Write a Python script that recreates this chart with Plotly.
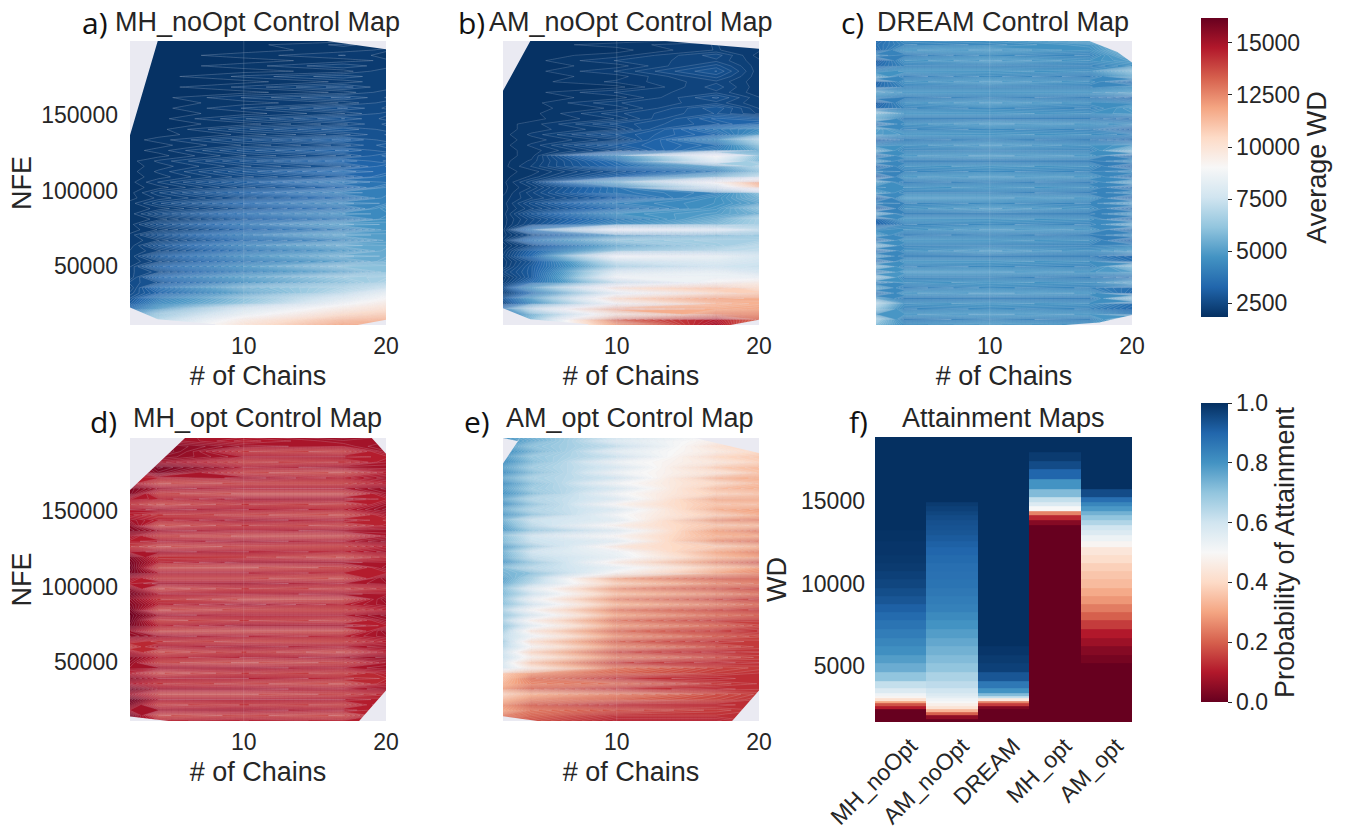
import plotly.graph_objects as go

chains = [2, 4, 10, 17, 20]
nfe = [11000, 14500, 18000, 21500, 25000, 28500, 32000, 35500, 39000, 42500, 46000, 49500, 53000, 56500,
       60000, 63500, 67000, 70500, 74000, 77500, 81000, 84500, 88000, 91500, 95000, 98500, 102000, 105500,
       109000, 112500, 116000, 119500, 123000, 126500, 130000, 133500, 137000, 140500, 144000, 147500,
       151000, 154500, 158000, 161500, 165000, 168500, 172000, 175500, 179000, 182500, 186000, 189500,
       193000, 196500, 199000]

# Average WD in hundreds, bottom row first
mh_noopt = [
 [70,75,100,118,118],[55,68,95,112,114],[45,62,85,104,108],[35,50,78,96,102],[30,44,62,88,96],
 [28,40,60,80,90],[26,32,50,72,84],[24,36,56,68,74],[26,28,44,60,68],[23,34,50,64,66],
 [24,26,40,52,60],[23,32,46,60,60],[22,25,38,48,56],[22,30,44,56,54],[22,24,36,46,54],
 [21,28,42,54,52],[21,23,34,42,50],[21,27,40,52,50],[20,22,32,40,48],[20,26,38,50,48],
 [20,21,30,38,46],[20,25,36,46,44],[20,21,28,36,46],[20,24,34,44,42],[19,21,27,34,42],
 [19,23,32,42,40],[19,20,26,32,40],[19,22,30,40,36],[19,20,25,30,36],[19,21,28,36,33],
 [19,20,24,28,34],[19,21,27,34,30],[19,19,23,27,32],[19,20,26,32,28],[19,19,22,26,30],
 [19,20,25,31,27],[19,19,21,25,28],[19,19,24,29,26],[19,19,20,24,27],[19,19,23,28,25],
 [19,19,20,23,26],[19,19,22,27,24],[19,19,20,22,25],[19,19,22,26,23],[19,19,19,21,24],
 [19,19,21,25,22],[19,19,19,21,23],[19,19,21,24,22],[19,19,19,20,23],[19,19,20,23,21],
 [19,19,19,20,21],[19,19,20,22,20],[19,19,19,20,21],[19,19,19,21,20],[19,19,19,19,20]]
am_noopt = [
 [50,66,120,150,125],[42,60,132,146,130],[30,56,100,124,124],[38,70,122,116,118],[24,44,90,112,115],
 [28,50,104,118,116],[22,36,84,104,108],[26,48,100,110,102],[22,34,72,92,96],[21,30,88,86,86],
 [24,30,80,84,78],[21,30,66,76,74],[21,28,74,80,76],[22,34,88,84,78],[21,32,60,70,72],
 [20,26,52,64,70],[21,38,62,66,66],[20,26,46,58,62],[20,40,84,80,72],[20,26,44,58,66],
 [20,25,40,54,66],[20,28,46,50,56],[20,24,36,48,60],[20,26,42,46,52],[20,23,32,46,56],
 [19,24,38,42,60],[19,22,38,76,108],[19,24,54,92,116],[19,21,32,56,72],[19,20,28,40,60],
 [19,22,34,50,68],[19,21,36,80,58],[19,20,44,90,60],[19,20,26,40,54],[19,21,30,36,60],
 [19,20,24,44,68],[19,21,28,34,48],[19,20,23,38,44],[19,20,26,30,34],[19,19,22,32,30],
 [19,19,24,28,24],[19,19,21,29,23],[19,19,23,25,22],[19,19,20,27,22],[19,19,22,24,21],
 [19,19,19,25,21],[19,19,21,24,21],[19,19,20,26,21],[19,19,22,28,21],[19,19,20,26,21],
 [19,19,22,24,21],[19,19,20,25,20],[19,19,19,22,21],[19,19,20,22,20],[19,19,19,20,20]]
dream = [
 [60,46,50,46,58],[66,40,42,40,62],[48,48,50,48,40],[62,42,44,42,34],[70,46,48,46,36],
 [50,40,40,40,58],[36,48,50,48,34],[52,40,44,42,36],[40,46,48,46,52],[60,42,42,40,36],
 [38,50,50,48,50],[56,42,44,42,58],[34,48,48,46,36],[50,40,40,40,34],[34,46,50,46,50],
 [56,42,42,42,44],[36,48,48,46,32],[50,40,42,40,46],[44,46,50,48,34],[32,42,44,42,52],
 [34,48,48,46,34],[52,40,40,40,48],[30,46,50,46,34],[44,42,44,42,50],[32,50,50,48,32],
 [50,42,42,40,46],[44,46,48,46,34],[52,40,42,40,52],[30,48,50,48,36],[44,42,44,42,46],
 [34,46,48,46,32],[50,40,40,40,46],[36,48,50,48,34],[54,42,42,42,58],[44,46,50,46,48],
 [32,40,42,40,34],[50,48,48,46,44],[52,42,44,42,32],[36,46,50,48,46],[54,40,40,40,36],
 [60,48,48,46,48],[34,42,44,42,50],[30,46,50,46,44],[44,40,42,40,34],[52,48,48,48,52],
 [34,42,42,42,46],[32,46,50,46,36],[52,40,44,40,52],[44,48,48,46,60],[34,42,42,42,46],
 [30,46,50,46,50],[44,40,44,42,56],[34,48,50,46,60],[36,42,44,48,62],[34,44,46,52,64]]
mh_opt = [
 [152,146,148,146,146],[158,138,140,138,148],[150,150,150,148,144],[156,140,142,140,150],[160,148,148,148,146],
 [150,138,138,140,144],[158,150,150,148,150],[148,142,140,138,146],[154,148,148,146,144],[146,138,142,140,146],
 [150,150,150,148,150],[152,140,138,140,148],[154,146,148,150,152],[148,138,142,138,146],[140,148,150,148,150],
 [146,142,140,140,146],[154,150,148,146,150],[152,138,138,138,152],[158,146,150,150,146],[160,140,142,140,150],
 [160,150,148,148,152],[158,138,140,140,146],[156,146,150,146,150],[154,142,138,138,152],[158,148,148,150,148],
 [154,138,142,140,144],[146,150,150,148,150],[150,140,140,138,152],[158,148,148,146,146],[160,138,138,140,150],
 [158,146,150,150,148],[156,142,142,138,144],[148,150,148,146,150],[142,138,140,140,146],[146,148,150,148,152],
 [150,140,138,138,148],[156,150,148,150,150],[154,138,142,140,146],[150,146,150,148,144],[146,142,140,138,148],
 [148,150,148,146,152],[142,138,142,140,150],[148,146,150,150,146],[156,140,138,138,150],[156,150,148,148,152],
 [148,138,140,140,146],[146,146,150,146,150],[148,156,140,138,146],[150,158,148,150,150],[152,150,140,142,148],
 [152,154,148,148,146],[152,158,142,140,150],[152,156,150,148,152],[152,152,146,150,150],[152,150,148,152,150]]
am_opt = [
 [132,136,146,146,142],[126,132,142,142,142],[118,128,136,140,142],[122,134,144,144,142],[114,124,132,138,142],
 [106,116,126,136,140],[120,132,142,144,142],[114,124,130,140,142],[110,128,142,144,142],[108,120,132,140,142],
 [78,98,128,138,140],[80,110,140,144,142],[74,94,126,136,140],[76,106,138,144,142],[70,90,124,136,140],
 [66,102,134,142,140],[72,86,122,134,138],[66,98,132,140,142],[62,82,120,132,138],[68,94,130,140,140],
 [62,78,118,130,134],[68,90,128,138,140],[60,76,114,126,132],[62,86,126,138,140],[58,74,112,124,130],
 [60,82,124,136,138],[54,70,108,124,128],[52,66,120,134,134],[56,60,92,118,124],[58,70,84,110,120],
 [48,62,96,126,136],[54,72,84,112,120],[56,76,86,118,126],[50,64,98,108,116],[58,74,82,124,130],
 [60,76,92,114,118],[50,62,80,120,128],[52,70,94,110,114],[56,74,82,124,126],[48,60,88,108,116],
 [54,68,80,116,120],[44,60,92,110,112],[52,68,80,118,118],[46,58,88,106,110],[50,64,78,112,116],
 [44,60,88,104,112],[52,66,76,114,116],[44,58,86,100,110],[50,64,78,108,112],[44,58,86,98,106],
 [48,62,74,104,108],[44,54,82,96,104],[48,60,72,100,106],[46,54,80,94,102],[48,56,76,90,100]]

# Parts of each panel that the data do not reach, as (chains, NFE) outlines
hull_a_x = [2,3.95,2,2,None,2,3.95,8,8,2,2,None,15.85,20,20,15.85,None,20,20,19.1,18,20]
hull_a_y = [199000,199000,136600,199000,None,22500,14700,11400,10900,10900,22500,None,199000,193500,199000,199000,None,14300,10900,10900,10900,14300]
hull_b_x = [2,3.92,2,2,None,2,3.92,8,8,2,2,None,13.4,20,20,13.4,None,20,20,18,20]
hull_b_y = [199000,199000,166000,199000,None,22000,14700,11400,10900,10900,22000,None,199000,193900,199000,199000,None,14300,10900,10900,14300]
hull_c_x = [17,18.97,20,20,17,None,20,17.7,15.3,20,20]
hull_c_y = [199000,191700,184700,199000,199000,None,17600,12500,10900,10900,17600]
hull_d_x = [2,5.87,2,2,None,19,20,20,19,None,20,18.1,20,20,None,2,4.8,2,2]
hull_d_y = [198500,198500,164000,198500,None,198500,188000,198500,198500,None,31000,10700,10700,31000,None,13800,10700,10700,13800]
hull_e_x = [2,3,3.2,2,2,None,15.5,20,20,15.5,None,20,18.1,20,20,None,2,4.5,2,2]
hull_e_y = [198500,196500,198500,181600,198500,None,198500,188600,198500,198500,None,31000,10700,10700,31000,None,14000,10700,10700,14000]

panel_titles = ["MH_noOpt Control Map", "AM_noOpt Control Map", "DREAM Control Map",
                "MH_opt Control Map", "AM_opt Control Map", "Attainment Maps"]
panel_letters = ["a)", "b)", "c)", "d)", "e)", "f)"]
letter_px = [(95, 22), (471, 22), (852, 22), (103, 421), (477, 421), (858, 421)]
title_cx = [257, 631, 1003, 257, 630, 1003]
title_cy = [22, 22, 22, 418, 418, 418]

algorithms = ["MH_noOpt", "AM_noOpt", "DREAM", "MH_opt", "AM_opt"]
wd_levels = [1600,1900,2100,2300,2500,2650,2800,2950,3100,3250,3500,3800,4300,4900,5400,5950,6400,7000,
             7500,8000,8500,9000,9500,10000,10500,11000,11500,12000,12400,12800,13100,13400,13700,14000,
             14250,14550,14800,15050,15450,16050,16650,17200,17700,18300,18890]
att_mh_noopt = [0,0,0,0,.1,.18,.3,.42,.49,.52,.57,.62,.7,.75,.78,.81,.83,.85,.87,.89,.91,.93,.945,.96,.97,.98,.985,.99,.99,
                .995,.995,1,1,1,1,1,1,1,1,1,1,1,1,1,1]
att_am_noopt = [0,.05,.2,.33,.43,.47,.5,.52,.55,.57,.6,.63,.66,.7,.72,.74,.76,.78,.8,.82,.84,.85,.86,.87,.875,.88,.89,.9,.91,
                .92,.93,.935,.94,.95,.96,.97,.98,1,1,1,1,1,1,1,1]
att_dream = [0,0,0,0,.03,.15,.25,.45,.62,.72,.8,.86,.93,.97,.98,.99,1,1,1,1,1,1,1,1,1,1,1,1,1,1,1,1,1,1,1,1,1,1,1,1,1,1,1,1,1]
att_mh_opt = [0]*32 + [.04,.12,.25,.5,.57,.62,.72,.8,.9,.95,.98,1,1]
att_am_opt = [0,0,0,0,0,0,0,0,0,0,0,0,0,0,.02,.04,.07,.1,.15,.2,.24,.28,.31,.34,.36,.38,.41,.44,.49,.53,.57,.6,.65,.7,.74,
              .79,.83,.88,.95,1,1,1,1,1,1]

W, H = 1349, 829
BG = "#EAEAF2"
INK = "#262626"
FONT = "Liberation Sans"
TICK = 23
LABEL = 27
WD_MIN, WD_MAX = 1830, 16200
line_alpha = [0.35, 0.3, 0.28, 0.3, 0.28]

panels_px = [(130, 386, 41, 325), (503, 759, 41, 325), (876, 1132, 41, 325),
             (130, 386, 438, 721), (503, 759, 438, 721), (875, 1132, 437, 722)]


def dom_x(a, b):
    return [a / W, b / W]


def dom_y(top, bottom):
    return [1 - bottom / H, 1 - top / H]


def colorbar(title, top, bottom, tickvals, fmt):
    return dict(title=dict(text=title, side="right", font=dict(size=LABEL, color=INK, family=FONT)),
                x=1201 / W, xanchor="left", thickness=27, thicknessmode="pixels",
                y=1 - top / H, yanchor="top", len=bottom - top, lenmode="pixels",
                tickvals=tickvals, tickformat=fmt, ticks="outside", ticklen=4, tickwidth=1, tickcolor=INK,
                tickfont=dict(size=TICK, color=INK, family=FONT), outlinewidth=0, xpad=0, ypad=0)


fig = go.Figure()
grids = [mh_noopt, am_noopt, dream, mh_opt, am_opt]
for g, name in zip(grids, ["a", "b", "c", "d", "e"]):
    assert len(g) == len(nfe), (name, len(g), len(nfe))
hulls = [(hull_a_x, hull_a_y), (hull_b_x, hull_b_y), (hull_c_x, hull_c_y), (hull_d_x, hull_d_y), (hull_e_x, hull_e_y)]

# Scale carrier for the Average WD colour bar; it sits under panel a's contours.
fig.add_trace(go.Heatmap(
    x=[10, 11], y=[100000], z=[[WD_MIN, WD_MAX]], zmin=WD_MIN, zmax=WD_MAX, colorscale="RdBu_r",
    xaxis="x", yaxis="y", hoverinfo="skip",
    colorbar=colorbar("Average WD", 18, 317, [2500, 5000, 7500, 10000, 12500, 15000], "d")))

shapes = []
for i, (grid, hull) in enumerate(zip(grids, hulls)):
    n = "" if i == 0 else str(i + 1)
    xa, ya = f"x{n}", f"y{n}"
    fig.add_trace(go.Contour(
        x=chains, y=nfe, z=[[v * 100 for v in r] for r in grid],
        colorscale="RdBu_r", zmin=WD_MIN, zmax=WD_MAX, showscale=False,
        xaxis=xa, yaxis=ya, hoverinfo="skip",
        contours=dict(coloring="fill", start=WD_MIN, end=WD_MAX, size=120),
        line=dict(color=f"rgba(235,235,245,{line_alpha[i]})", width=0.6, smoothing=0)))
    fig.add_trace(go.Scatter(
        x=hull[0], y=hull[1], mode="lines", fill="toself", fillcolor=BG,
        line=dict(width=0, color=BG), xaxis=xa, yaxis=ya, hoverinfo="skip", showlegend=False))
    shapes.append(dict(type="line", xref=xa, yref=f"{ya} domain", x0=10, x1=10, y0=0, y1=1,
                       line=dict(color="rgba(255,255,255,0.15)", width=1), layer="above"))
    (a, b, t, bt) = panels_px[i]
    lo, hi = (10900, 199000) if i < 3 else (10800, 198500)
    fig.update_layout(**{
        f"xaxis{n}": dict(domain=dom_x(a, b), range=[2, 20], anchor=ya, tickvals=[10, 20], showgrid=True,
                          automargin=False, gridcolor="white", gridwidth=1, zeroline=False, showline=False, ticks="",
                          tickfont=dict(size=TICK, color=INK, family=FONT), ticklabelstandoff=5,
                          title=dict(text="# of Chains", font=dict(size=LABEL, color=INK, family=FONT), standoff=8)),
        f"yaxis{n}": dict(domain=dom_y(t, bt), range=[lo, hi], anchor=xa, showgrid=True,
                          automargin=False, gridcolor="white", gridwidth=1, zeroline=False, showline=False, ticks="",
                          tickvals=[50000, 100000, 150000], tickformat="d",
                          showticklabels=i in (0, 3),
                          tickfont=dict(size=TICK, color=INK, family=FONT), ticklabelstandoff=11,
                          title=dict(text="NFE" if i in (0, 3) else "", font=dict(size=LABEL, color=INK, family=FONT), standoff=1)),
    })

att_z = [list(r) for r in zip(att_mh_noopt, att_am_noopt, att_dream, att_mh_opt, att_am_opt)]
fig.add_trace(go.Heatmap(x=algorithms, y=wd_levels, z=att_z, zmin=0, zmax=1, colorscale="RdBu",
                         xaxis="x6", yaxis="y6", hoverinfo="skip",
                         colorbar=colorbar("Probability of Attainment", 403, 702, [0, .2, .4, .6, .8, 1], ".1f")))
a, b, t, bt = panels_px[5]
fig.update_layout(
    xaxis6=dict(domain=dom_x(a, b), anchor="y6", automargin=False, showgrid=False, zeroline=False, ticks="", tickangle=-45,
                ticklabelshift=10, ticklabelstandoff=5, tickfont=dict(size=TICK, color=INK, family=FONT)),
    yaxis6=dict(domain=dom_y(t, bt), anchor="x6", automargin=False, range=[1600, 18890], showgrid=False, zeroline=False, ticks="",
                tickvals=[5000, 10000, 15000], tickformat="d", ticklabelstandoff=9,
                tickfont=dict(size=TICK, color=INK, family=FONT),
                title=dict(text="WD", font=dict(size=LABEL, color=INK, family=FONT), standoff=6)),
)

annotations = []
for txt, cx, cy in zip(panel_titles, title_cx, title_cy):
    annotations.append(dict(text=txt, x=cx / W, y=1 - cy / H, xref="paper", yref="paper", showarrow=False,
                            xanchor="center", yanchor="middle", font=dict(size=27, color=INK, family=FONT)))
for txt, (px, py) in zip(panel_letters, letter_px):
    annotations.append(dict(text=txt, x=px / W, y=1 - py / H, xref="paper", yref="paper", showarrow=False,
                            xanchor="center", yanchor="middle", font=dict(size=30, color="#111111", family="Open Sans")))

fig.update_layout(
    width=W, height=H, margin=dict(l=0, r=0, t=0, b=0, autoexpand=False), showlegend=False,
    paper_bgcolor="white", plot_bgcolor=BG, shapes=shapes, annotations=annotations,
)
fig.write_html("out.html", config=dict(displayModeBar=False), post_script="document.body.style.margin='0';")
